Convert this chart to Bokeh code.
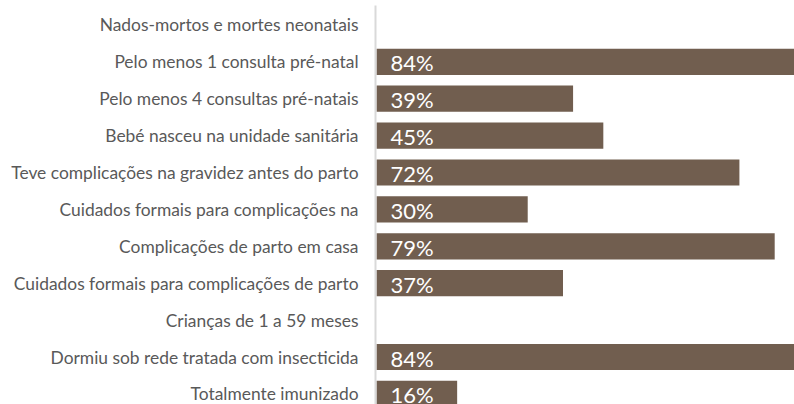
from bokeh.plotting import figure
from bokeh.models import ColumnDataSource, Range1d, FixedTicker, LabelSet
from bokeh.core.properties import value
from bokeh.embed import file_html
from bokeh.resources import INLINE

categories = [
    "Nados-mortos e mortes neonatais",
    "Pelo menos 1 consulta pré-natal",
    "Pelo menos 4 consultas pré-natais",
    "Bebé nasceu na unidade sanitária",
    "Teve complicações na gravidez antes do parto",
    "Cuidados formais para complicações na",
    "Complicações de parto em casa",
    "Cuidados formais para complicações de parto",
    "Crianças de 1 a 59 meses",
    "Dormiu sob rede tratada com insecticida",
    "Totalmente imunizado",
]
values = [None, 84, 39, 45, 72, 30, 79, 37, None, 84, 16]

rows = list(range(len(categories)))
bar_y = [i for i, v in zip(rows, values) if v is not None]
bar_v = [v for v in values if v is not None]
bar_lbl = [f"{v}%" for v in bar_v]
src = ColumnDataSource(dict(y=bar_y, v=bar_v, lbl=bar_lbl, x0=[0] * len(bar_v)))

BAR = "#715e4f"
FONT = "Lato"

p = figure(
    width=794, height=404,
    output_backend="svg", toolbar_location=None,
    x_range=Range1d(-0.2, 82.93),
    y_range=Range1d(10.287, -0.526),
    min_border_left=375, min_border_right=0, min_border_top=5, min_border_bottom=0,
)
p.hbar(y="y", left=0, right="v", height=0.71, source=src, fill_color=BAR, line_color=None)

labels = LabelSet(x="x0", y="y", text="lbl", source=src, x_offset=14, y_offset=-1,
                  text_color="white", text_font=value(FONT), text_font_size="22px",
                  text_baseline="middle", text_align="left")
p.add_layout(labels)

p.xaxis.visible = False
p.xgrid.visible = False
p.ygrid.visible = False
p.outline_line_color = None

ya = p.yaxis[0]
ya.ticker = FixedTicker(ticks=rows)
ya.major_label_overrides = {i: c for i, c in zip(rows, categories)}
ya.major_label_text_font = FONT
ya.major_label_text_font_size = "17.4px"
ya.major_label_text_color = "#595959"
ya.major_label_standoff = 11
ya.major_tick_line_color = None
ya.minor_tick_line_color = None
ya.axis_line_color = "#d9d9d9"
ya.axis_line_width = 2

open("out.html", "w").write(file_html(p, INLINE))
